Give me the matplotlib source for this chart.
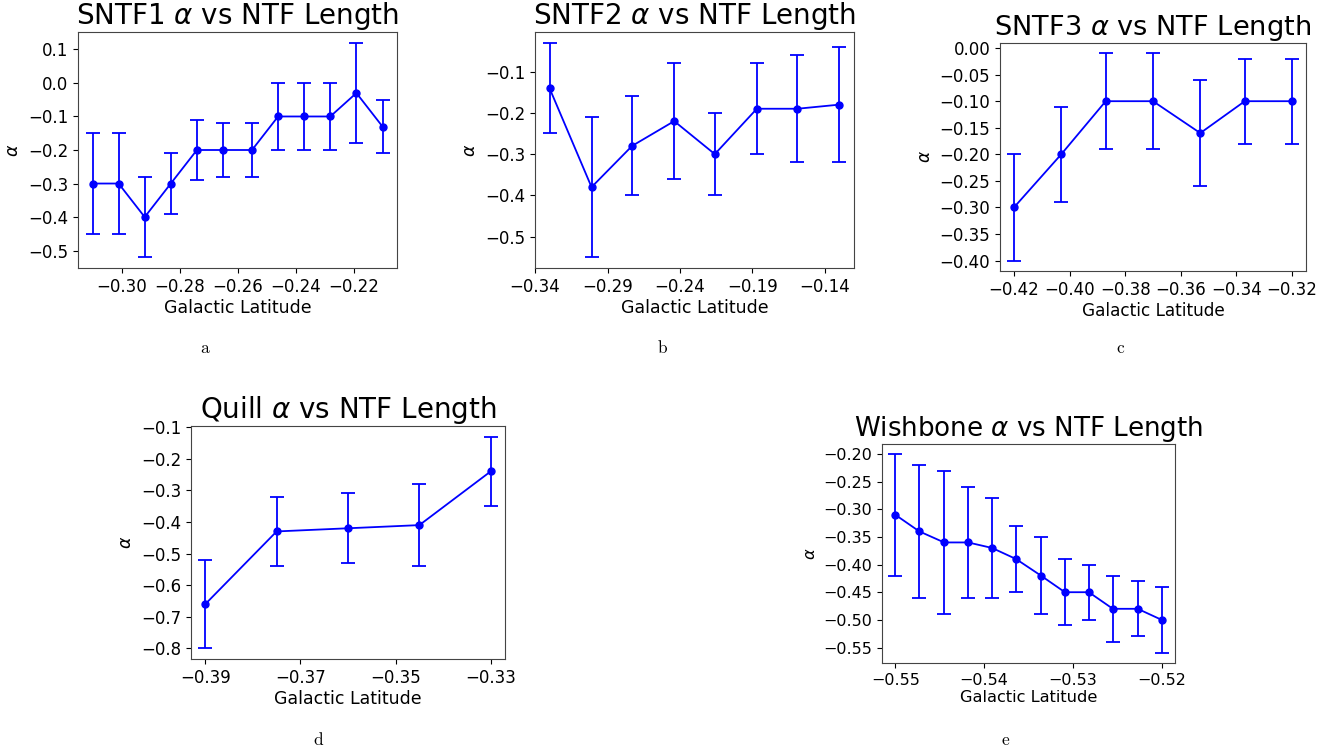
import matplotlib
matplotlib.use('Agg')
import matplotlib.pyplot as plt

# SNTF1
sntf1_lat = [-0.310, -0.301, -0.292, -0.283, -0.274, -0.265, -0.255, -0.246, -0.237, -0.228, -0.219, -0.210]
sntf1_alpha = [-0.30, -0.30, -0.40, -0.30, -0.20, -0.20, -0.20, -0.10, -0.10, -0.10, -0.03, -0.13]
sntf1_err = [0.15, 0.15, 0.12, 0.09, 0.09, 0.08, 0.08, 0.10, 0.10, 0.10, 0.15, 0.08]
sntf1_yticks = [0.1, 0.0, -0.1, -0.2, -0.3, -0.4, -0.5]

# SNTF2
sntf2_lat = [-0.330, -0.301, -0.273, -0.244, -0.216, -0.187, -0.159, -0.130]
sntf2_alpha = [-0.14, -0.38, -0.28, -0.22, -0.30, -0.19, -0.19, -0.18]
sntf2_err = [0.11, 0.17, 0.12, 0.14, 0.10, 0.11, 0.13, 0.14]
sntf2_ticks = [-0.34, -0.29, -0.24, -0.19, -0.14]

# SNTF3
sntf3_lat = [-0.420, -0.403, -0.387, -0.370, -0.353, -0.337, -0.320]
sntf3_alpha = [-0.30, -0.20, -0.10, -0.10, -0.16, -0.10, -0.10]
sntf3_err = [0.10, 0.09, 0.09, 0.09, 0.10, 0.08, 0.08]
sntf3_yticks = [0.0, -0.05, -0.10, -0.15, -0.20, -0.25, -0.30, -0.35, -0.40]

# Quill
quill_lat = [-0.390, -0.375, -0.360, -0.345, -0.330]
quill_alpha = [-0.66, -0.43, -0.42, -0.41, -0.24]
quill_err = [0.14, 0.11, 0.11, 0.13, 0.11]
quill_ticks = [-0.39, -0.37, -0.35, -0.33]
quill_yticks = [-0.1, -0.2, -0.3, -0.4, -0.5, -0.6, -0.7, -0.8]

# Wishbone
wish_lat = [-0.5500, -0.5473, -0.5445, -0.5418, -0.5391, -0.5364, -0.5336, -0.5309, -0.5282, -0.5255, -0.5227, -0.5200]
wish_alpha = [-0.31, -0.34, -0.36, -0.36, -0.37, -0.39, -0.42, -0.45, -0.45, -0.48, -0.48, -0.50]
wish_err = [0.11, 0.12, 0.13, 0.10, 0.09, 0.06, 0.07, 0.06, 0.05, 0.06, 0.05, 0.06]
wish_yticks = [-0.20, -0.25, -0.30, -0.35, -0.40, -0.45, -0.50, -0.55]

W, H = 1335, 751
fig = plt.figure(figsize=(W / 100, H / 100), dpi=100)


def make_axes(x0, y0, x1, y1):
    # pixel box -> figure fraction
    return fig.add_axes([x0 / W, 1 - y1 / H, (x1 - x0) / W, (y1 - y0) / H])


def draw_panel(ax, name, lat, alpha, err, ticks=None, yticks=None, title_size=20, label_size=12.5, tick_size=12):
    ax.errorbar(lat, alpha, yerr=err, fmt='-o', color='blue', ecolor='blue',
                elinewidth=1.3, capsize=5, capthick=1.3, markersize=5, linewidth=1.3)
    if ticks is not None:
        ax.set_xticks(ticks)
    if yticks is not None:
        ax.set_yticks(yticks)
    ax.set_title(name + r' $\alpha$ vs NTF Length', fontsize=title_size)
    ax.set_xlabel('Galactic Latitude', fontsize=label_size, labelpad=2)
    ax.set_ylabel(r'$\alpha$', fontsize=label_size)
    ax.tick_params(labelsize=tick_size)
    for sp in ax.spines.values():
        sp.set_color('#444444')


ax_a = make_axes(78, 32, 397, 268)
draw_panel(ax_a, 'SNTF1', sntf1_lat, sntf1_alpha, sntf1_err, yticks=sntf1_yticks)

ax_b = make_axes(535, 32, 854, 268)
draw_panel(ax_b, 'SNTF2', sntf2_lat, sntf2_alpha, sntf2_err, ticks=sntf2_ticks)

ax_c = make_axes(1000, 43, 1306, 271)
draw_panel(ax_c, 'SNTF3', sntf3_lat, sntf3_alpha, sntf3_err, yticks=sntf3_yticks,
           title_size=19.6, label_size=12.2)

ax_d = make_axes(191, 426, 505, 659)
draw_panel(ax_d, 'Quill', quill_lat, quill_alpha, quill_err, ticks=quill_ticks, yticks=quill_yticks)

ax_e = make_axes(882, 444, 1175, 663)
draw_panel(ax_e, 'Wishbone', wish_lat, wish_alpha, wish_err, yticks=wish_yticks,
           title_size=18.8, label_size=11.7, tick_size=11.5)

# sub-figure captions
captions = ['a', 'b', 'c', 'd', 'e']
cap_pos = [(205, 348), (662, 348), (1120, 348), (318, 740), (1005, 740)]
for c, (px, py) in zip(captions, cap_pos):
    fig.text(px / W, 1 - py / H, c, ha='center', va='center', fontsize=12.5, family=['cmr10', 'DejaVu Serif'])

fig.savefig('out.png', dpi=100)
